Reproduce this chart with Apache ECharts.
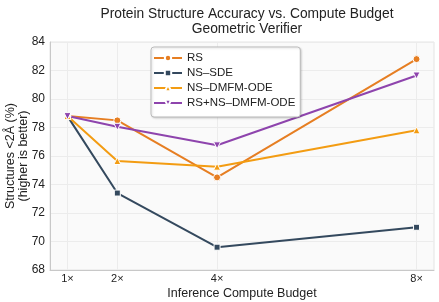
<!DOCTYPE html>
<html><head><meta charset="utf-8">
<script src="https://cdn.jsdelivr.net/npm/echarts@6/dist/echarts.min.js"></script>
<style>html,body{margin:0;padding:0;background:#fff}#c{width:439px;height:302px}</style>
</head><body><div id="c"></div>
<script>
const budgets = [1, 2, 4, 8];
const tickLabels = ['1×', '2×', '4×', '8×'];
const seriesNames = ['RS', 'NS–SDE', 'NS–DMFM-ODE', 'RS+NS–DMFM-ODE'];
const rsVals = [78.8, 78.5, 74.5, 82.8];
const nsSdeVals = [78.8, 73.4, 69.6, 71.0];
const nsOdeVals = [78.8, 75.65, 75.25, 77.8];
const rsNsOdeVals = [78.8, 78.05, 76.75, 81.65];
const yTicks = [68, 70, 72, 74, 76, 78, 80, 82, 84];

const colors = ['#e67e22', '#34495e', '#f39c12', '#8e44ad'];
const symbols = ['circle', 'rect', 'triangle', 'path://M0,0 L10,0 L5,10 Z'];
const allVals = [rsVals, nsSdeVals, nsOdeVals, rsNsOdeVals];

const font = 'Liberation Sans, Arial, sans-serif';
const chart = echarts.init(document.getElementById('c'), null, {renderer: 'canvas'});
chart.setOption({
  animation: false,
  title: {
    text: 'Protein Structure Accuracy vs. Compute Budget\nGeometric Verifier',
    left: 242, top: 2, textAlign: 'center',
    textStyle: {fontFamily: font, fontSize: 13.8, fontWeight: 'normal', color: '#222', lineHeight: 15}
  },
  legend: {
    left: 151, top: 47, orient: 'vertical', itemGap: 3, itemWidth: 28, itemHeight: 8,
    padding: [5, 5, 8, 2],
    backgroundColor: '#fff', borderColor: '#bbb', borderWidth: 1, borderRadius: 3,
    shadowColor: 'rgba(0,0,0,0.15)', shadowBlur: 2, shadowOffsetX: 1, shadowOffsetY: 1,
    textStyle: {fontFamily: font, fontSize: 11.5, color: '#222'},
    data: seriesNames
  },
  grid: {left: 50, right: 5, top: 42, bottom: 32, outerBoundsMode: 'none', containLabel: false, show: true, backgroundColor: '#fafafa', borderColor: '#e4e4e4', borderWidth: 1},
  xAxis: {
    type: 'value', min: 0.65, max: 8.35,
    name: 'Inference Compute Budget', nameLocation: 'middle', nameGap: 17, nameMoveOverlap: false,
    nameTextStyle: {fontFamily: font, fontSize: 12.5, color: '#222'},
    axisLine: {show: true, onZero: false, lineStyle: {color: '#c8c8c8', width: 1}},
    axisTick: {show: false, customValues: budgets},
    axisLabel: {customValues: budgets, formatter: v => tickLabels[budgets.indexOf(v)] || '', fontFamily: font, fontSize: 11, color: '#222', margin: 3},
    splitLine: {show: true, lineStyle: {color: '#ececec', width: 1}}
  },
  yAxis: {
    type: 'value', min: yTicks[0], max: yTicks[yTicks.length - 1], interval: 2,
    name: 'Structures <2Å (%)\n(higher is better)', nameLocation: 'middle', nameGap: 19.5, nameMoveOverlap: false,
    nameTextStyle: {fontFamily: font, fontSize: 12.5, color: '#222', lineHeight: 13},
    axisLine: {show: true, lineStyle: {color: '#c8c8c8', width: 1}},
    axisTick: {show: false},
    axisLabel: {fontFamily: font, fontSize: 12, color: '#222', margin: 5},
    splitLine: {show: true, lineStyle: {color: '#ececec', width: 1}}
  },
  series: seriesNames.map((n, i) => ({
    name: n, type: 'line',
    data: budgets.map((b, j) => [b, allVals[i][j]]),
    symbol: symbols[i], symbolSize: i === 1 ? 6 : 7,
    showAllSymbol: true,
    lineStyle: {color: colors[i], width: 2},
    itemStyle: {color: colors[i], borderColor: '#fff', borderWidth: 1}
  }))
});
</script></body></html>
